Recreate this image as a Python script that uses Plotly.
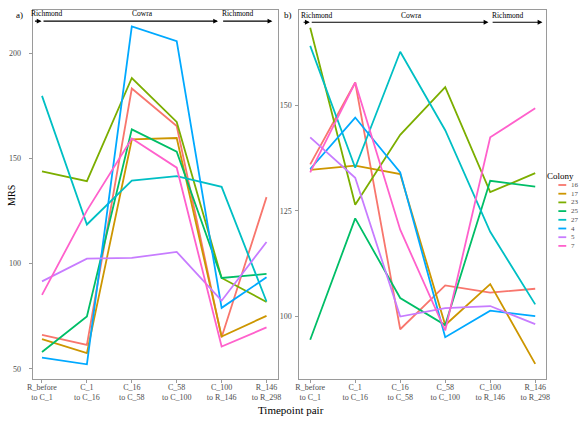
import plotly.graph_objects as go

colonies = ["16", "17", "23", "25", "27", "4", "5", "7"]
colors = ["#F8766D", "#CD9600", "#7CAE00", "#00BE67", "#00BFC4", "#00A9FF", "#C77CFF", "#FF61CC"]
pairs = ["R_before<br>to C_1", "C_1<br>to C_16", "C_16<br>to C_58",
         "C_58<br>to C_100", "C_100<br>to R_146", "R_146<br>to R_298"]

# panel a) MRS per colony
a_16 = [66.2, 61.4, 183.2, 165.4, 65.0, 131.6]
a_17 = [64.1, 57.5, 159.0, 159.7, 65.4, 75.2]
a_23 = [143.8, 139.2, 188.2, 167.3, 93.2, 81.8]
a_25 = [58.0, 74.9, 163.8, 153.2, 93.2, 95.1]
a_27 = [179.7, 118.6, 139.5, 141.6, 136.5, 82.0]
a_4 = [55.4, 52.2, 212.7, 205.7, 79.0, 93.5]
a_5 = [91.6, 102.4, 102.7, 105.6, 82.4, 110.3]
a_7 = [85.2, 125.2, 159.4, 145.6, 60.6, 69.7]

# panel b)
b_16 = [136.0, 155.4, 96.9, 107.3, 105.6, 106.5]
b_17 = [134.7, 135.7, 133.7, 97.9, 107.6, 88.7]
b_23 = [168.4, 126.4, 143.0, 154.3, 129.4, 133.9]
b_25 = [94.4, 123.2, 104.3, 97.9, 132.1, 130.7]
b_27 = [164.1, 135.2, 162.7, 144.1, 120.0, 102.8]
b_4 = [134.9, 147.1, 134.1, 95.0, 101.3, 100.0]
b_5 = [142.4, 132.8, 99.9, 101.9, 102.4, 98.1]
b_7 = [134.1, 155.4, 120.5, 96.6, 142.4, 149.3]

panel_a = [a_16, a_17, a_23, a_25, a_27, a_4, a_5, a_7]
panel_b = [b_16, b_17, b_23, b_25, b_27, b_4, b_5, b_7]

sites = ["Richmond", "Cowra", "Richmond"]

W, H = 586, 421
FONT = "Liberation Serif"
GREY = "#4D4D4D"

fig = go.Figure()
for name, col, ya, yb in zip(colonies, colors, panel_a, panel_b):
    fig.add_trace(go.Scatter(x=pairs, y=ya, mode="lines", name=name,
                             line=dict(color=col, width=1.8),
                             xaxis="x", yaxis="y", showlegend=False))
    fig.add_trace(go.Scatter(x=pairs, y=yb, mode="lines", name=name,
                             line=dict(color=col, width=1.8),
                             xaxis="x2", yaxis="y2", showlegend=False))

def px_x(p):
    return p / W

def px_y(p):
    return 1 - p / H

axis_style = dict(showgrid=False, zeroline=False, showline=True, mirror=True,
                  linecolor="#9a9a9a", linewidth=1, ticks="outside", ticklen=3,
                  tickcolor="#9a9a9a", tickfont=dict(family=FONT, size=8, color=GREY))
xstyle = dict(axis_style, ticklabelstandoff=-3)

fig.update_layout(
    width=W, height=H,
    margin=dict(l=0, r=0, t=0, b=0),
    plot_bgcolor="white", paper_bgcolor="white",
    font=dict(family=FONT),
    xaxis=dict(domain=[px_x(28), px_x(277)], range=[-0.21, 5.25], anchor="y", **xstyle),
    yaxis=dict(domain=[px_y(379), px_y(10)], range=[45.2, 220.5], anchor="x",
               tickvals=[50, 100, 150, 200], ticklabelstandoff=6, **axis_style),
    xaxis2=dict(domain=[px_x(299), px_x(549)], range=[-0.24, 5.23], anchor="y2", **xstyle),
    yaxis2=dict(domain=[px_y(379), px_y(10)], range=[85.1, 172.6], anchor="x2",
                tickvals=[100, 125, 150], ticklabelstandoff=2, **axis_style),
)

# site arrows along the top of each panel
arrows = {
    "a": dict(xr="x", yr="y", y=215.2, ty=218.6,
              segs=[(-0.19, -0.01), (0.0, 3.92), (4.0, 5.13)], labels=[0.11, 2.24, 4.36]),
    "b": dict(xr="x2", yr="y2", y=169.7, ty=171.4,
              segs=[(-0.18, -0.01), (0.0, 3.96), (4.02, 5.16)], labels=[0.13, 2.26, 4.38]),
}
for key, a in arrows.items():
    for (x0, x1), lx, site in zip(a["segs"], a["labels"], sites):
        fig.add_annotation(x=x1, y=a["y"], ax=x0, ay=a["y"], xref=a["xr"], yref=a["yr"],
                           axref=a["xr"], ayref=a["yr"], showarrow=True, arrowhead=2,
                           arrowsize=0.8, arrowwidth=1.2, arrowcolor="black", text="")
        fig.add_annotation(x=lx, y=a["ty"], xref=a["xr"], yref=a["yr"], text=site,
                           showarrow=False, yanchor="middle",
                           font=dict(family=FONT, size=7.5, color="black"))

fig.add_annotation(x=px_x(20), y=px_y(15), xref="paper", yref="paper", text="a)",
                   showarrow=False, xanchor="right", yanchor="middle",
                   font=dict(family=FONT, size=9, color="black"))
fig.add_annotation(x=px_x(294), y=px_y(15), xref="paper", yref="paper", text="b)",
                   showarrow=False, xanchor="right", yanchor="middle",
                   font=dict(family=FONT, size=9, color="black"))
fig.add_annotation(x=px_x(6), y=px_y(195), xref="paper", yref="paper", text="MRS",
                   showarrow=False, textangle=-90, xanchor="center", yanchor="middle",
                   font=dict(family=FONT, size=10, color="black"))
fig.add_annotation(x=px_x(290), y=px_y(410), xref="paper", yref="paper", text="Timepoint pair",
                   showarrow=False, yanchor="middle",
                   font=dict(family=FONT, size=11, color="black"))

# legend drawn by hand to get ggplot's compact key spacing
fig.add_annotation(x=px_x(548), y=px_y(176), xref="paper", yref="paper", text="Colony",
                   showarrow=False, xanchor="left", yanchor="middle",
                   font=dict(family=FONT, size=9, color="black"))
for i, (name, col) in enumerate(zip(colonies, colors)):
    yy = px_y(185 + i * 8.7)
    fig.add_shape(type="line", xref="paper", yref="paper", x0=px_x(562), x1=px_x(570),
                  y0=yy, y1=yy, line=dict(color=col, width=1.8))
    fig.add_annotation(x=px_x(573), y=yy, xref="paper", yref="paper", text=name,
                       showarrow=False, xanchor="left", yanchor="middle",
                       font=dict(family=FONT, size=7, color=GREY))

# the default page keeps the browser's 8px body margin, which pushes the figure off the window
fig.write_html("out.html", config={"displayModeBar": False},
               post_script="document.body.style.margin='0';")
